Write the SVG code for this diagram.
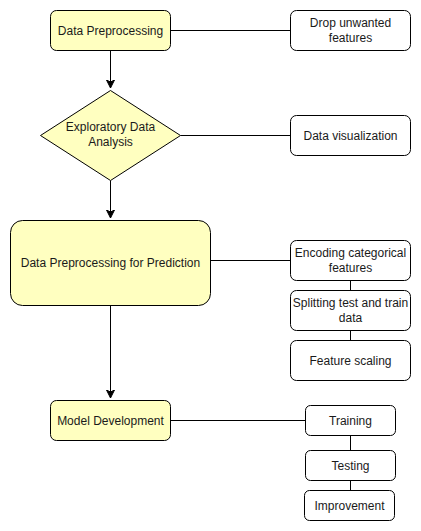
<svg xmlns="http://www.w3.org/2000/svg" width="421" height="531" viewBox="0 0 421 531">
<style>
.main{fill:#FFFFC0;stroke:#000;stroke-width:1}
.sub{fill:#fff;stroke:#000;stroke-width:1}
.ln{fill:none;stroke:#000;stroke-width:1}
text{font-family:"Liberation Sans",Arial,sans-serif;font-size:12px;fill:#1a1a1a;text-anchor:middle}
</style>
<defs>
<marker id="arr" markerWidth="10" markerHeight="10" refX="8" refY="4" orient="auto" markerUnits="userSpaceOnUse">
<path d="M0,0 L8,4 L0,8 L2,4 Z" fill="#000" stroke="#000" stroke-width="1"/>
</marker>
</defs>
<rect width="421" height="531" fill="#fff"/>
<g id="connectors">
<path class="ln" d="M110.5,50.5 V88" marker-end="url(#arr)"/>
<path class="ln" d="M110.5,180.5 V218" marker-end="url(#arr)"/>
<path class="ln" d="M110.5,305.5 V398" marker-end="url(#arr)"/>
<path class="ln" d="M170.5,30.5 H290.5"/>
<path class="ln" d="M180.5,135.5 H290.5"/>
<path class="ln" d="M210.5,260.5 H290.5"/>
<path class="ln" d="M350.5,280.5 V290.5"/>
<path class="ln" d="M350.5,330.5 V340.5"/>
<path class="ln" d="M170.5,420.5 H305.5"/>
<path class="ln" d="M350.5,435.5 V450.5"/>
<path class="ln" d="M350.5,480.5 V490.5"/>
</g>
<g id="n1"><rect class="main" x="50.5" y="10.5" width="120" height="40" rx="6"/><text x="110.5" y="34.5">Data Preprocessing</text></g>
<g id="n2"><rect class="sub" x="290.5" y="10.5" width="120" height="40" rx="6"/><text x="350.5" y="27">Drop unwanted</text><text x="350.5" y="41.5">features</text></g>
<g id="n3"><polygon class="main" points="110.5,90.5 180.5,135.5 110.5,180.5 40.5,135.5"/><text x="110.5" y="131">Exploratory Data</text><text x="110.5" y="145.5">Analysis</text></g>
<g id="n4"><rect class="sub" x="290.5" y="115.5" width="120" height="40" rx="6"/><text x="350.5" y="139.5">Data visualization</text></g>
<g id="n5"><rect class="main" x="10.5" y="220.5" width="200" height="85" rx="12"/><text x="110.5" y="266.5">Data Preprocessing for Prediction</text></g>
<g id="n6"><rect class="sub" x="290.5" y="240.5" width="120" height="40" rx="6"/><text x="350.5" y="257">Encoding categorical</text><text x="350.5" y="271.5">features</text></g>
<g id="n7"><rect class="sub" x="290.5" y="290.5" width="120" height="40" rx="6"/><text x="350.5" y="307">Splitting test and train</text><text x="350.5" y="321.5">data</text></g>
<g id="n8"><rect class="sub" x="290.5" y="340.5" width="120" height="40" rx="6"/><text x="350.5" y="364.5">Feature scaling</text></g>
<g id="n9"><rect class="main" x="50.5" y="400.5" width="120" height="40" rx="6"/><text x="110.5" y="424.5">Model Development</text></g>
<g id="n10"><rect class="sub" x="305.5" y="405.5" width="90" height="30" rx="5"/><text x="350.5" y="424.5">Training</text></g>
<g id="n11"><rect class="sub" x="305.5" y="450.5" width="90" height="30" rx="5"/><text x="350.5" y="469.5">Testing</text></g>
<g id="n12"><rect class="sub" x="304.5" y="490.5" width="90" height="30" rx="5"/><text x="349.5" y="509.5">Improvement</text></g>
</svg>
